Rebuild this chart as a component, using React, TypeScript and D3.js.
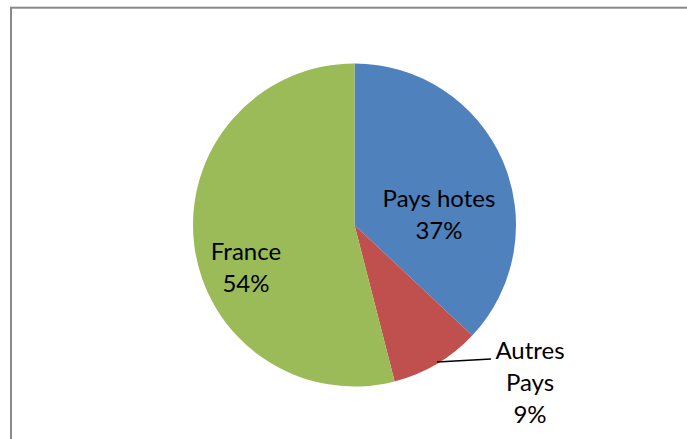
import React from "react";
import * as d3 from "d3";

const categories = ["Pays hotes", "Autres Pays", "France"];
const values = [37, 9, 54];
const colors = ["#4F81BD", "#C0504D", "#9BBB59"];

const W = 687;
const H = 439;
const cx = 354.5;
const cy = 225;
const R = 161.5;
const FONT = "Lato, 'Open Sans', sans-serif";
const FS = 24;
const LH = 32;

export default function App() {
  const pie = d3.pie<number>().sort(null).value((d) => d)(values);
  const arc = d3.arc<d3.PieArcDatum<number>>().innerRadius(0).outerRadius(R);

  // label positions [x, first baseline] per slice
  const labelPos: [number, number][] = [
    [439, 207],
    [530, 359],
    [246, 260],
  ];

  const labelLines = (i: number) => {
    const name = categories[i];
    const pct = `${values[i]}%`;
    if (i === 1) return [...name.split(" "), pct];
    return [name, pct];
  };

  return (
    <svg
      width={W}
      height={H}
      style={{ position: "absolute", left: 0, top: 0, background: "#fff" }}
    >
      <rect x={0} y={0} width={W} height={H} fill="#fff" />
      <rect
        x={11}
        y={7.7}
        width={W + 20}
        height={H + 20}
        fill="none"
        stroke="#898989"
        strokeWidth={2}
      />
      <g transform={`translate(${cx},${cy})`}>
        {pie.map((p, i) => (
          <path key={i} d={arc(p) || ""} fill={colors[i]} />
        ))}
      </g>
      <line x1={437} y1={362} x2={491} y2={359} stroke="#000" strokeWidth={1.5} />
      {categories.map((_, i) => (
        <text
          key={i}
          x={labelPos[i][0]}
          y={labelPos[i][1]}
          textAnchor="middle"
          fontFamily={FONT}
          fontSize={FS}
          fill="#000"
        >
          {labelLines(i).map((t, j) => (
            <tspan key={j} x={labelPos[i][0]} dy={j === 0 ? 0 : LH}>
              {t}
            </tspan>
          ))}
        </text>
      ))}
    </svg>
  );
}
